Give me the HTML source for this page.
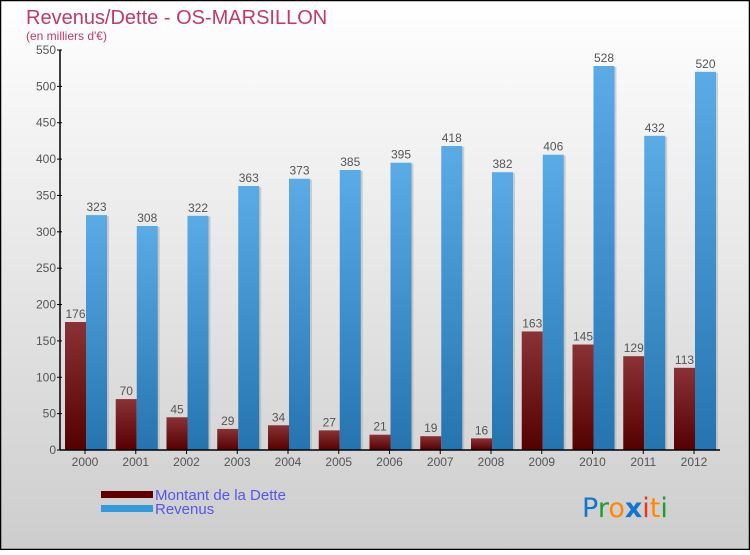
<!DOCTYPE html>
<html><head><meta charset="utf-8">
<style>
html,body{margin:0;padding:0}
body{width:750px;height:550px;overflow:hidden;font-family:"Liberation Sans",sans-serif}
</style></head>
<body>
<svg id="chart" width="750" height="550" xmlns="http://www.w3.org/2000/svg" font-family="Liberation Sans, sans-serif">
<defs>
<linearGradient id="bg" x1="0" y1="0" x2="0" y2="1"><stop offset="0" stop-color="#ffffff"/><stop offset="1" stop-color="#cdcdcd"/></linearGradient>
<linearGradient id="red" x1="0" y1="0" x2="0" y2="1"><stop offset="0" stop-color="#8a3236"/><stop offset="1" stop-color="#550000"/></linearGradient>
<linearGradient id="blue" x1="0" y1="0" x2="0" y2="1"><stop offset="0" stop-color="#5aabe6"/><stop offset="1" stop-color="#2574b0"/></linearGradient>
</defs>
<rect x="0.5" y="0.5" width="749" height="549" fill="url(#bg)" stroke="#000" stroke-width="1.5"/>
<text x="26" y="24" font-size="20" fill="#c0396a">Revenus/Dette - OS-MARSILLON</text>
<text x="26" y="40" font-size="12" fill="#c0396a">(en milliers d'€)</text>
<g id="yaxis"></g>
<g id="bars"></g>
<g id="xaxis"></g>
<g>
<rect x="101" y="491" width="52" height="7" fill="#600000"/>
<text x="155" y="500" font-size="15" fill="#5555ee">Montant de la Dette</text>
<rect x="101" y="505" width="52" height="7" fill="#3399dd"/>
<text x="155" y="514" font-size="15" fill="#5555ee">Revenus</text>
</g>
<g font-size="27" font-family="DejaVu Sans, sans-serif">
<text x="582" y="517"><tspan fill="#1177cc">P</tspan><tspan fill="#229933">r</tspan><tspan fill="#ff8800">o</tspan><tspan fill="#1177cc" font-weight="bold">x</tspan><tspan fill="#ee3311">i</tspan><tspan fill="#ff8800">t</tspan><tspan fill="#229933">i</tspan></text>
</g>
</svg>
<script>
const years=["2000","2001","2002","2003","2004","2005","2006","2007","2008","2009","2010","2011","2012"];
const dette=[176,70,45,29,34,27,21,19,16,163,145,129,113];
const revenus=[323,308,322,363,373,385,395,418,382,406,528,432,520];
const yTicks=[0,50,100,150,200,250,300,350,400,450,500,550];
const NS="http://www.w3.org/2000/svg";
const x0=60,y0=450,yMax=550,plotH=400,step=50.75,bw=21;
function yScale(v){return y0-v/yMax*plotH;}
function xScale(i){return x0+25+i*step;}
function mk(tag,attrs,parent){const e=document.createElementNS(NS,tag);for(const k in attrs)e.setAttribute(k,attrs[k]);parent.appendChild(e);return e;}
const ya=document.getElementById('yaxis'),xa=document.getElementById('xaxis'),bars=document.getElementById('bars');
let l=mk('line',{x1:x0,y1:y0,x2:x0,y2:yScale(550),stroke:'#000','stroke-width':1.5},ya);


yTicks.forEach(t=>{
 const y=yScale(t);
 const tk=mk('line',{x1:x0-3,y1:y,x2:x0+2,y2:y,stroke:'#000'},ya);
 
 
 const tx=mk('text',{x:x0-4,y:y+4,'font-size':12,fill:'#555','text-anchor':'end'},ya);
 tx.textContent=t;
 
 
});
let xl=mk('line',{x1:x0,y1:y0,x2:720,y2:y0,stroke:'#000','stroke-width':1.5},xa);


years.forEach((yr,i)=>{
 const c=xScale(i);
 const tk=mk('line',{x1:c,y1:y0,x2:c,y2:y0+4,stroke:'#000'},xa);
 
 
 const tx=mk('text',{x:c,y:y0+16,'font-size':12,fill:'#555','text-anchor':'middle'},xa);
 tx.textContent=yr;
 
 
 const rd=mk('rect',{x:c-bw+1,y:yScale(dette[i]),width:bw,height:y0-yScale(dette[i]),fill:'url(#red)'},bars);
 
 
 const sh=mk('rect',{x:c+2,y:yScale(revenus[i])+1,width:bw+1,height:y0-yScale(revenus[i])-1,fill:'#aaa',opacity:0.5},bars);
 
 
 const bl=mk('rect',{x:c+1,y:yScale(revenus[i]),width:bw,height:y0-yScale(revenus[i]),fill:'url(#blue)'},bars);
 
 
 const dl=mk('text',{x:c-bw/2+1,y:yScale(dette[i])-4,'font-size':12,fill:'#555','text-anchor':'middle'},bars);
 dl.textContent=dette[i];
 
 
 const rl=mk('text',{x:c+bw/2+1,y:yScale(revenus[i])-4,'font-size':12,fill:'#555','text-anchor':'middle'},bars);
 rl.textContent=revenus[i];
 
 
});
</script>
</body></html>
